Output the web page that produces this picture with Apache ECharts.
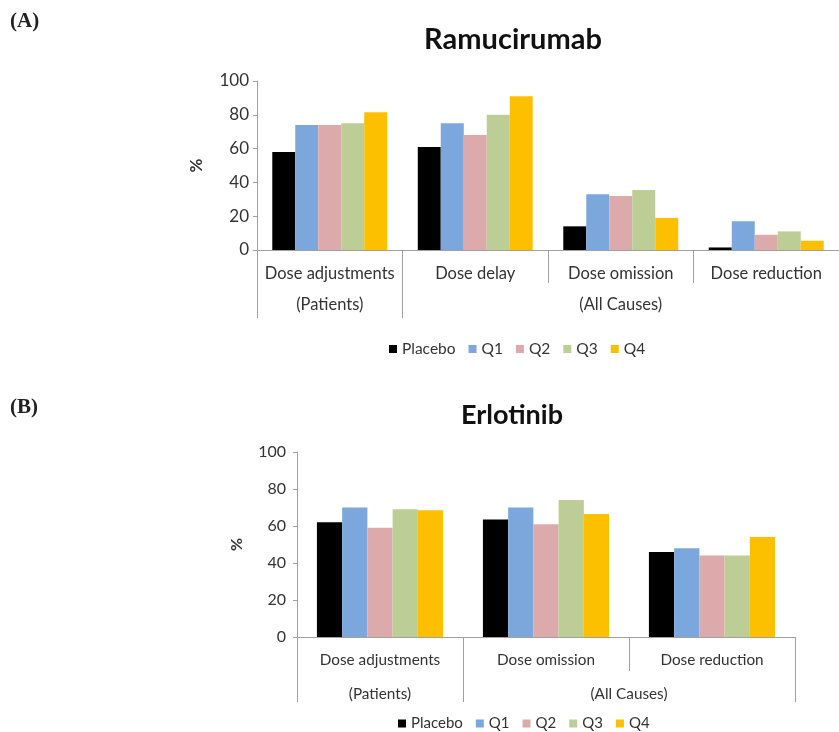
<!DOCTYPE html>
<html>
<head>
<meta charset="utf-8">
<script src="https://cdn.jsdelivr.net/npm/echarts@6/dist/echarts.min.js"></script>
<style>
  html, body { margin: 0; padding: 0; background: #fff; }
  #chart { width: 839px; height: 732px; }
</style>
</head>
<body>
<div id="chart"></div>
<script>
// Panel A: Ramucirumab, dose modifications by exposure quartile (%)
const categoriesA = ['Dose adjustments', 'Dose delay', 'Dose omission', 'Dose reduction'];
const groupLabelsA = ['(Patients)', '(All Causes)'];
const groupSpansA = [1, 3];
const placeboA = [58, 61, 14, 1.5];
const q1A = [74, 75, 33, 17];
const q2A = [74, 68, 32, 9];
const q3A = [75, 80, 35.5, 11];
const q4A = [81.5, 91, 19, 5.5];

// Panel B: Erlotinib, dose modifications by exposure quartile (%)
const categoriesB = ['Dose adjustments', 'Dose omission', 'Dose reduction'];
const groupLabelsB = ['(Patients)', '(All Causes)'];
const groupSpansB = [1, 2];
const placeboB = [62, 63.5, 46];
const q1B = [70, 70, 48];
const q2B = [59, 61, 44];
const q3B = [69, 74, 44];
const q4B = [68.5, 66.5, 54];

const seriesNames = ['Placebo', 'Q1', 'Q2', 'Q3', 'Q4'];
const yMin = 0, yMax = 100, yStep = 20;

const colors = ['#000000', '#7ba7dc', '#dcaaaa', '#bccd96', '#fcc000'];
const FONT = 'Lato, "Open Sans", sans-serif';
const AXIS_GREY = '#a0a0a0';
const TEXT = '#333333';

// Boundaries and centres of the outer label groups, in category units
function groupLayout(labels, spans) {
  const ticks = [0];
  const centres = [];
  const names = {};
  let pos = 0;
  spans.forEach((s, i) => {
    centres.push(pos + s / 2);
    names[pos + s / 2] = labels[i];
    pos += s;
    ticks.push(pos);
  });
  return { ticks, centres, names, total: pos };
}

const gA = groupLayout(groupLabelsA, groupSpansA);
const gB = groupLayout(groupLabelsB, groupSpansB);

function makeXAxes(gridIndex, cats, g, fs, tick1, tick2, m1, m2) {
  return [
    {
      type: 'category', gridIndex, data: cats,
      axisLine: { lineStyle: { color: AXIS_GREY, width: 1 } },
      axisTick: { show: true, interval: 0, length: tick1, lineStyle: { color: AXIS_GREY } },
      axisLabel: { interval: 0, margin: m1, fontFamily: FONT, fontSize: fs, color: TEXT }
    },
    {
      type: 'value', gridIndex, position: 'bottom', offset: tick1,
      min: 0, max: g.total,
      splitLine: { show: false },
      axisLine: { show: false },
      axisTick: { show: true, customValues: g.ticks, length: tick2, lineStyle: { color: AXIS_GREY } },
      axisLabel: {
        customValues: g.centres, margin: m2, fontFamily: FONT, fontSize: fs, color: TEXT,
        formatter: v => g.names[v] || ''
      }
    }
  ];
}

function makeYAxis(gridIndex, fs, gap, nameGap) {
  return {
    type: 'value', gridIndex, min: yMin, max: yMax, interval: yStep,
    name: '%', nameLocation: 'middle', nameGap,
    nameTextStyle: { fontFamily: FONT, fontSize: fs, fontWeight: 'bold', color: TEXT },
    splitLine: { show: false },
    axisLine: { show: true, lineStyle: { color: AXIS_GREY } },
    axisTick: { show: true, length: 4, lineStyle: { color: AXIS_GREY } },
    axisLabel: { margin: gap, fontFamily: FONT, fontSize: fs, color: TEXT }
  };
}

function makeSeries(xIdx, yIdx, dataSets, catGap) {
  return dataSets.map((d, i) => ({
    type: 'bar', name: seriesNames[i], data: d,
    xAxisIndex: xIdx, yAxisIndex: yIdx,
    barGap: '0%', barCategoryGap: catGap,
    itemStyle: { color: colors[i] },
    emphasis: { disabled: true }
  }));
}

function makeLegend(left, top, fs) {
  return {
    data: seriesNames, left, top, icon: 'rect',
    itemWidth: 8, itemHeight: 8, itemGap: 13,
    textStyle: { fontFamily: FONT, fontSize: fs, color: TEXT }
  };
}

const chart = echarts.init(document.getElementById('chart'), null, { renderer: 'canvas' });

chart.setOption({
  animation: false,
  color: colors,
  grid: [
    { left: 257, top: 81, width: 582, height: 169, outerBoundsMode: 'none', containLabel: false },
    { left: 297, top: 452, width: 498, height: 185, outerBoundsMode: 'none', containLabel: false }
  ],
  xAxis: [
    ...makeXAxes(0, categoriesA, gA, 16.5, 33, 35, 15, 13),
    ...makeXAxes(1, categoriesB, gB, 15.3, 34, 31, 16, 16)
  ],
  yAxis: [
    makeYAxis(0, 17, 8, 52),
    makeYAxis(1, 16, 11, 52)
  ],
  legend: [
    makeLegend(384, 336, 15.5),
    makeLegend(393, 711, 15)
  ],
  series: [
    ...makeSeries(0, 0, [placeboA, q1A, q2A, q3A, q4A], '21%'),
    ...makeSeries(2, 1, [placeboB, q1B, q2B, q3B, q4B], '24%')
  ],
  graphic: [
    { type: 'text', left: 10, top: 11, style: { text: '(A)', font: 'bold 21px "Liberation Serif", serif', fill: '#222' } },
    { type: 'text', left: 10, top: 397, style: { text: '(B)', font: 'bold 21px "Liberation Serif", serif', fill: '#222' } },
    { type: 'text', x: 513, y: 40, style: { text: 'Ramucirumab', font: 'bold 29px ' + FONT, fill: '#111', align: 'center', verticalAlign: 'middle' } },
    { type: 'text', x: 512, y: 415, style: { text: 'Erlotinib', font: 'bold 27px ' + FONT, fill: '#111', align: 'center', verticalAlign: 'middle' } }
  ]
});
</script>
</body>
</html>
